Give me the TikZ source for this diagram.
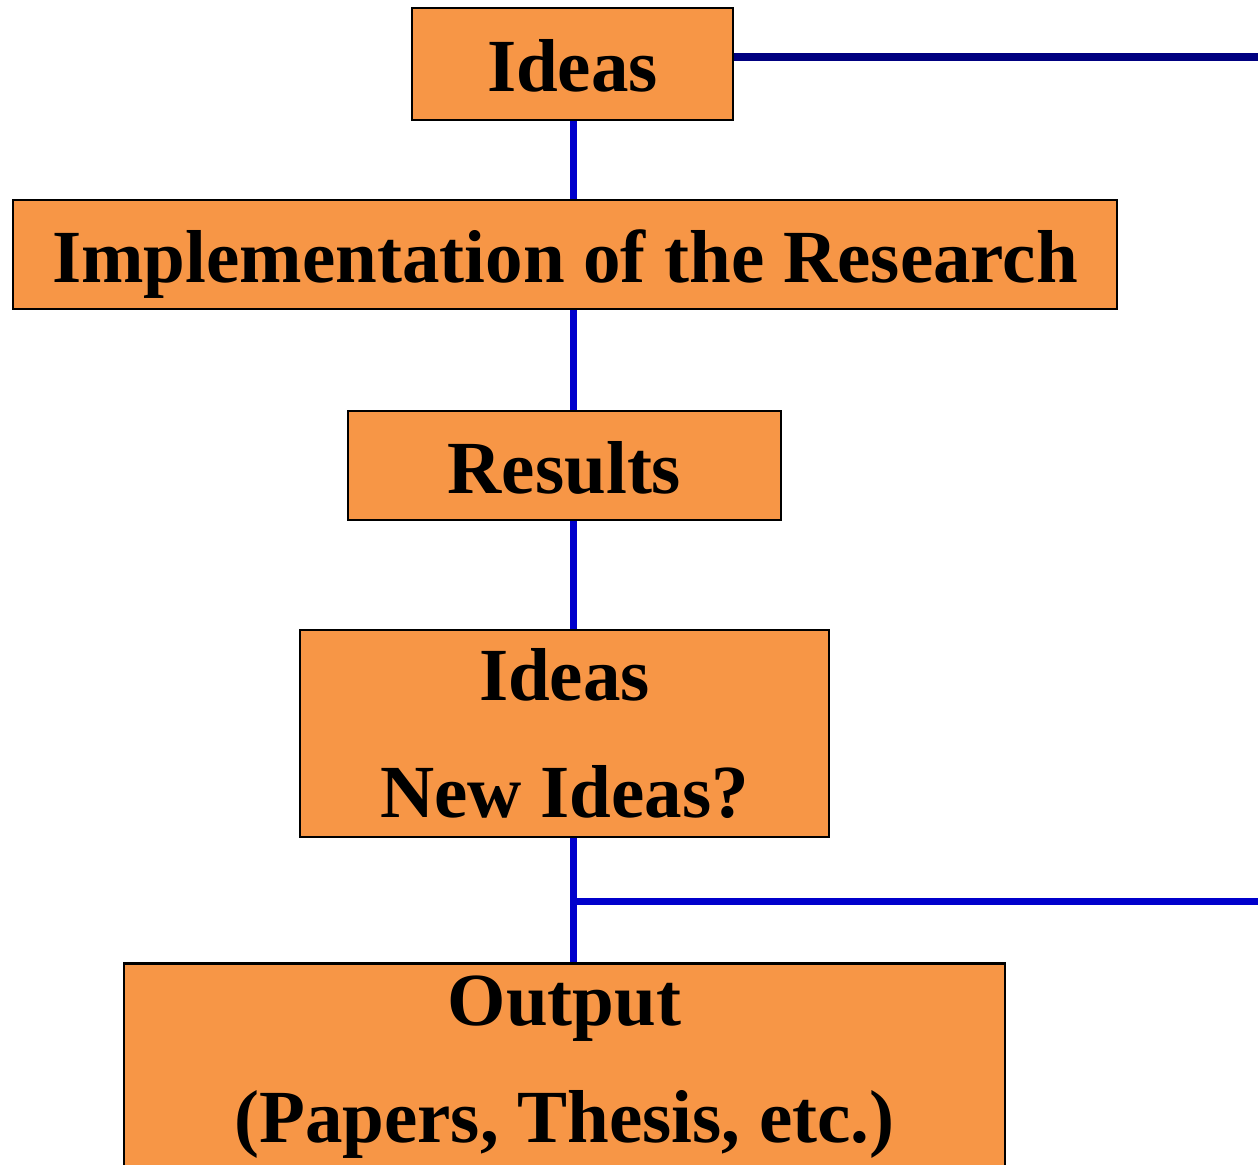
\documentclass[tikz,border=0pt]{standalone}
\usepackage{fontspec}
\setmainfont{Liberation Serif}
\usepackage{xcolor}
\usetikzlibrary{positioning,calc}
\definecolor{boxorange}{HTML}{F79646}
\definecolor{linkblue}{HTML}{0000CC}
\definecolor{loopnavy}{HTML}{000080}

\begin{document}
\begin{tikzpicture}[
  x=1pt, y=1pt,
  blk/.style={draw=black, fill=boxorange, line width=1.2pt, inner sep=0pt, align=center,
    font=\fontsize{37.5}{58.5}\selectfont\bfseries},
  one/.style={text height=30pt, text depth=2pt},
  link/.style={draw=linkblue, line width=3.5pt},
  back/.style={draw=loopnavy, line width=3.8pt}
]
\useasboundingbox (0,0) rectangle (629,-582.5);

\node[blk, one, minimum width=160.5pt, minimum height=56pt] (ideas) at (286.25,-32) {Ideas};
\node[blk, one, minimum width=552pt, minimum height=54.5pt] (impl) at (282.5,-127.25) {Implementation of the Research};
\node[blk, one, minimum width=216.5pt, minimum height=54.5pt] (res) at (282.25,-232.75) {Results};
\node[blk, minimum width=264.5pt, minimum height=103.5pt] (newid) at (282.25,-366.75) {Ideas\\New Ideas?};
\node[blk, minimum width=440.5pt, minimum height=103.5pt, below=62pt of newid] (out) {Output\\(Papers, Thesis, etc.)};

% spine
\coordinate (sp) at (286.5,0);
\draw[link] (sp |- ideas.south) -- (sp |- impl.north);
\draw[link] (sp |- impl.south) -- (sp |- res.north);
\draw[link] (sp |- res.south) -- (sp |- newid.north);
\draw[link] (sp |- newid.south) -- (sp |- out.north);

% feedback loop
\coordinate (jn) at (286.5,-450.5);
\coordinate (rt) at (633,-450.5);
\coordinate (tp) at (633,-28.5);
\draw[link] (jn) -- (rt);
\draw[back] (rt) -- (tp) -- (tp -| ideas.east);
\end{tikzpicture}
\end{document}
